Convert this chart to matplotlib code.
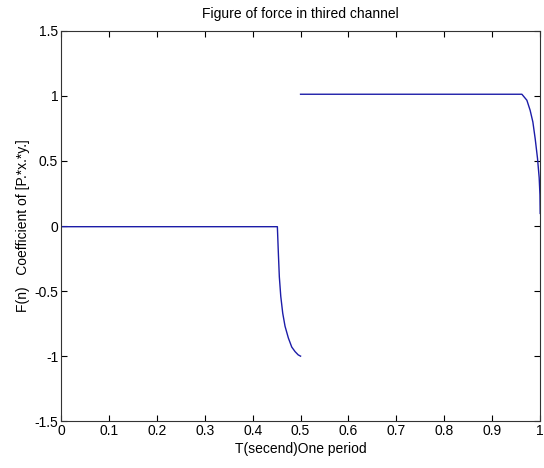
import numpy as np
import matplotlib
matplotlib.use("Agg")
import matplotlib.pyplot as plt

plt.rcParams['font.family'] = ['Liberation Sans', 'DejaVu Sans']

# points (T in seconds, force coefficient)
# first half: flat near zero, then drop to -1
t_first = [0.0, 0.4516, 0.4537, 0.4557, 0.4587, 0.4628, 0.4676, 0.4745,
           0.4816, 0.4885, 0.4950, 0.5]
f_first = [-0.005, -0.005, -0.21, -0.39, -0.54, -0.67, -0.77, -0.86,
           -0.93, -0.965, -0.99, -1.0]
# second half: flat at 1, then drop near T=1
t_second = [0.5, 0.9618, 0.9722, 0.979, 0.9847, 0.9896, 0.9944, 0.9979,
            0.9995, 1.0]
f_second = [1.013, 1.013, 0.967, 0.89, 0.80, 0.67, 0.52, 0.37, 0.24, 0.097]

x_ticks = [0, 0.1, 0.2, 0.3, 0.4, 0.5, 0.6, 0.7, 0.8, 0.9, 1]
x_labels = ['0', '0.1', '0.2', '0.3', '0.4', '0.5', '0.6', '0.7', '0.8', '0.9', '1']
y_ticks = [-1.5, -1, -0.5, 0, 0.5, 1, 1.5]
y_labels = ['-1.5', '-1', '-0.5', '0', '0.5', '1', '1.5']

fig = plt.figure(figsize=(5.44, 4.68), dpi=100)
ax = fig.add_axes([0.112, 0.100, 0.881, 0.834])

ax.plot(t_first, f_first, color='#1c1ca8', linewidth=1.0)
ax.plot(t_second, f_second, color='#1c1ca8', linewidth=1.0)

ax.set_xlim(0, 1)
ax.set_ylim(-1.5, 1.5)
ax.set_xticks(x_ticks)
ax.set_xticklabels(x_labels)
ax.set_yticks(y_ticks)
ax.set_yticklabels(y_labels)
ax.tick_params(direction='in', top=True, right=True, length=4, width=0.8,
               labelsize=10, pad=2)
for s in ax.spines.values():
    s.set_linewidth(0.8)
    s.set_color('#333333')

ax.set_title('Figure of force in thired channel', fontsize=10, pad=9)
ax.set_xlabel('T(secend)One period', fontsize=10, labelpad=3)
ax.set_ylabel('F(n)   Coefficient of [P.*x.*y.]', fontsize=10, labelpad=3)

fig.savefig('out.png', dpi=100)
